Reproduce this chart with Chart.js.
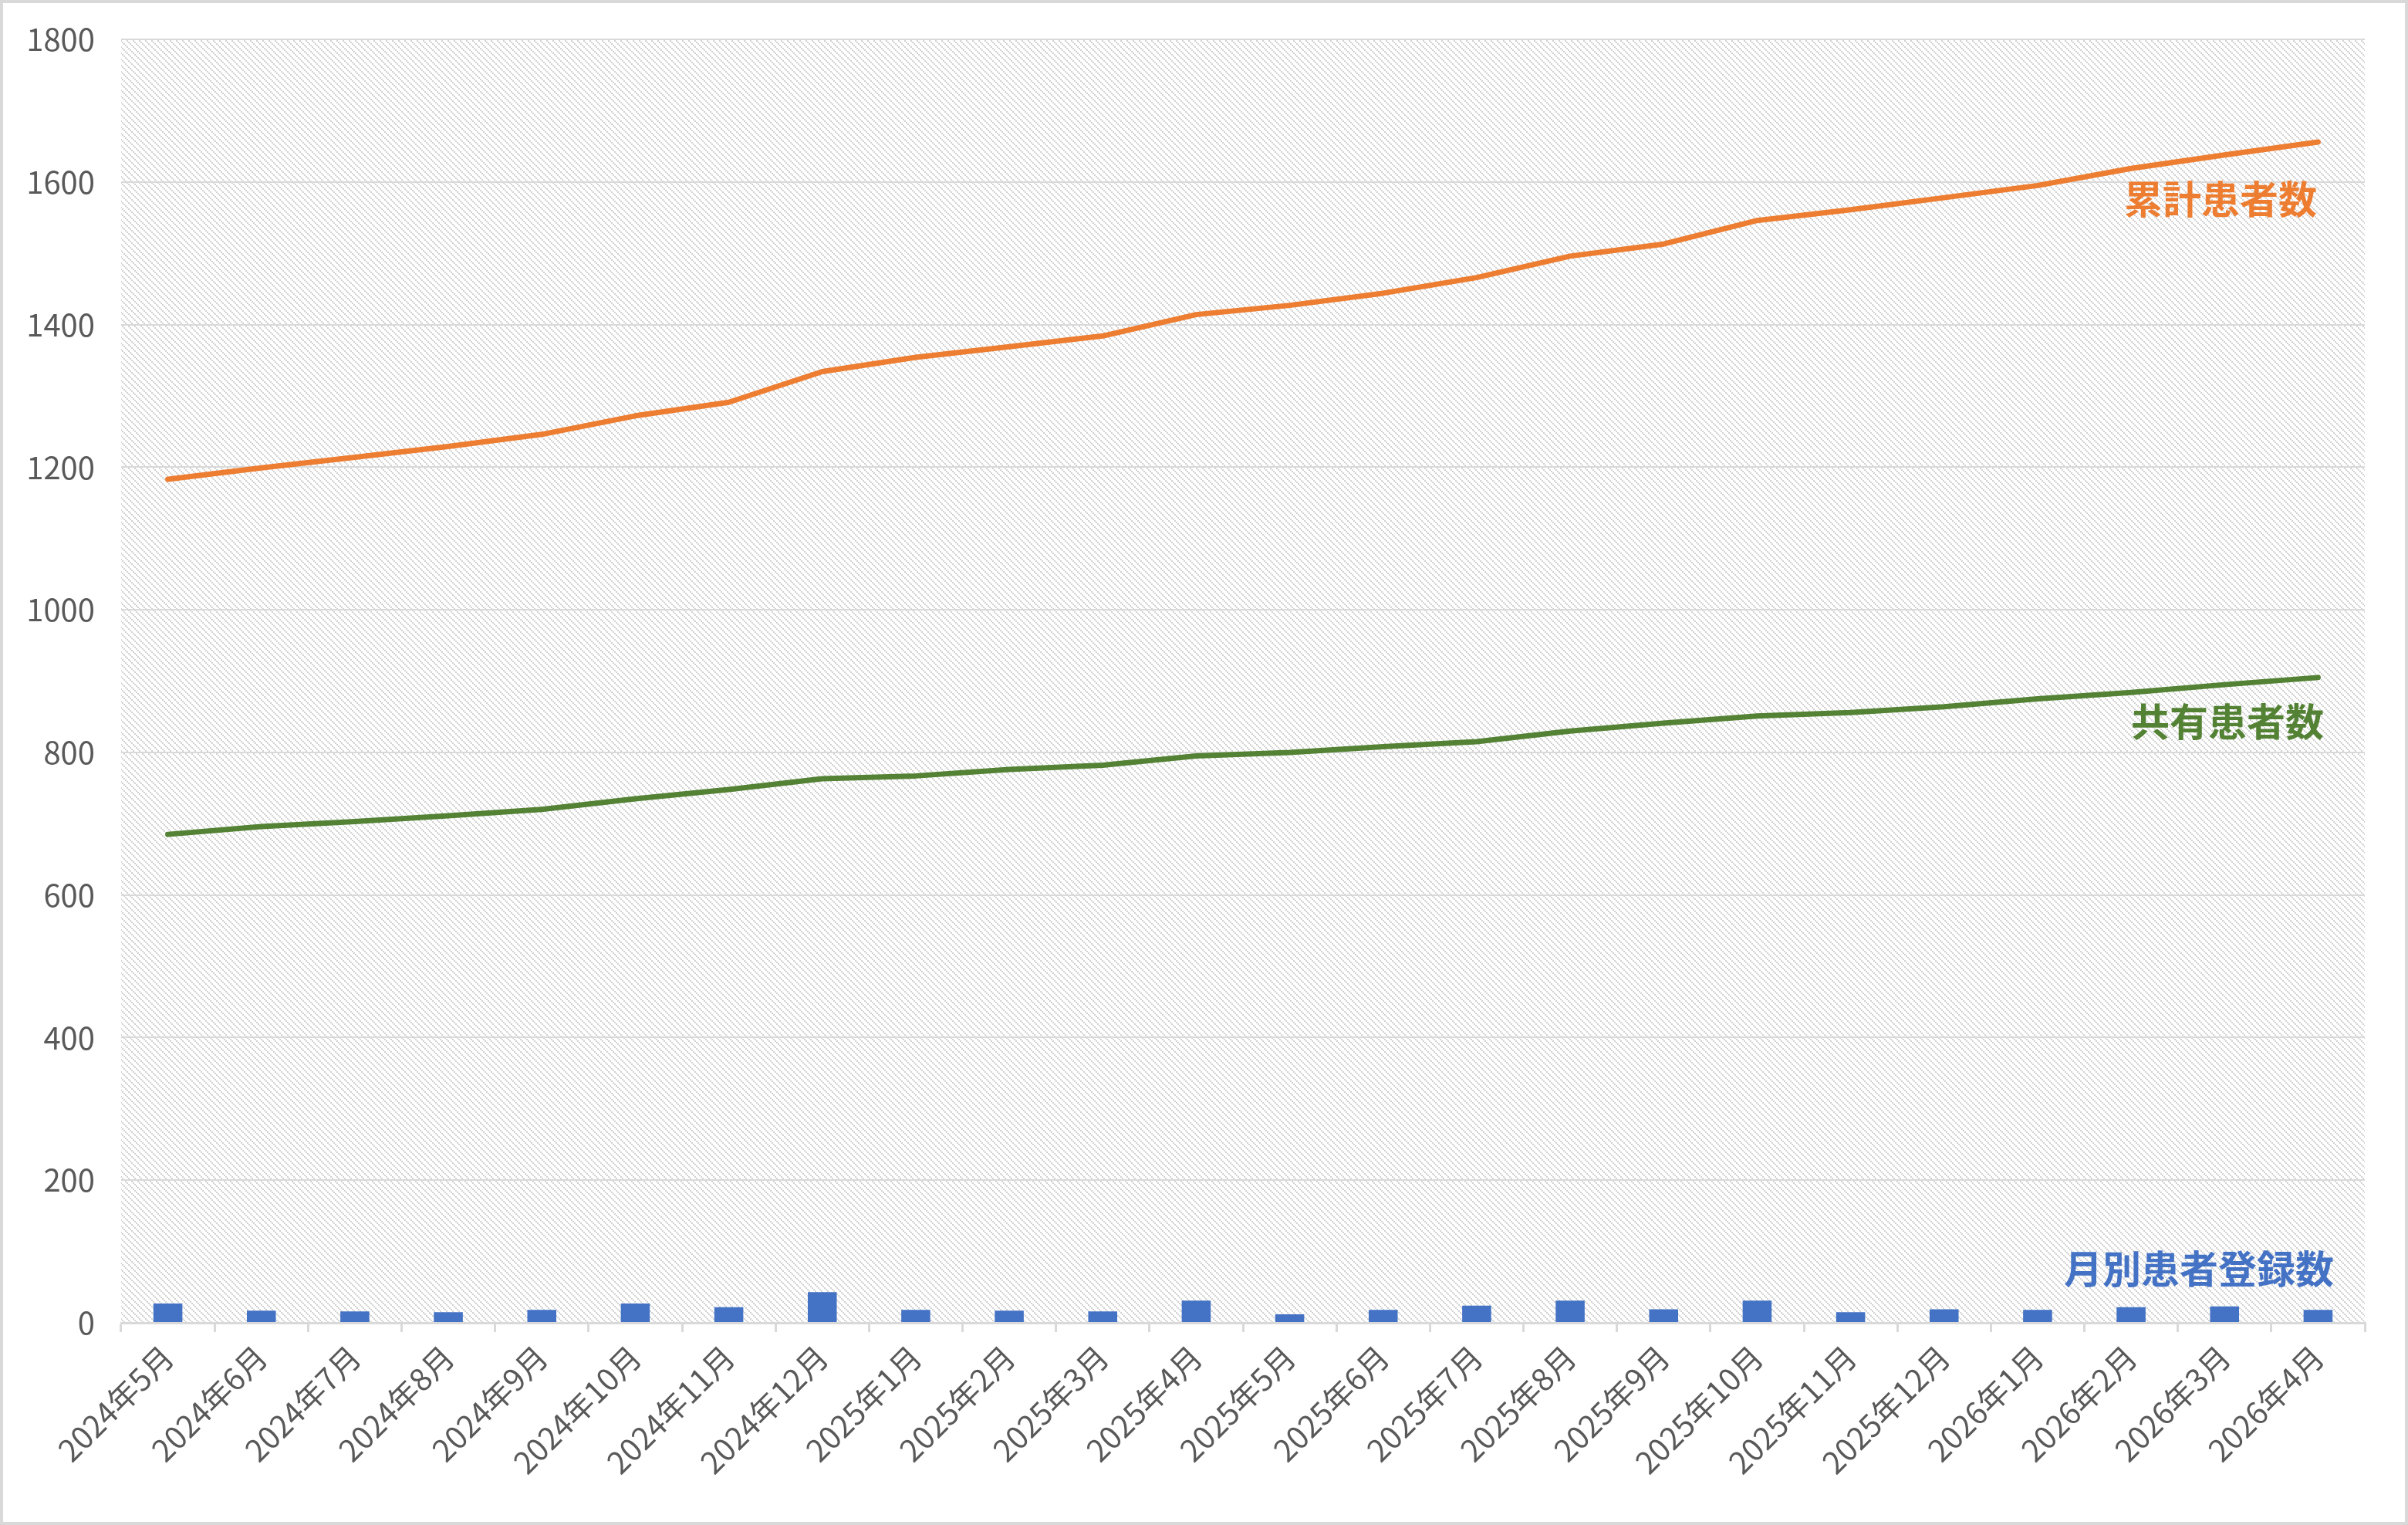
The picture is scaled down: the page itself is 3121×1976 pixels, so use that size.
<!DOCTYPE html>
<html lang="ja">
<head>
<meta charset="UTF-8" />
<title>患者数の推移</title>
<style>
  html,body{margin:0;padding:0;background:#fff;}
  #wrap{width:3121px;height:1976px;position:relative;}
</style>
<script src="https://cdn.jsdelivr.net/npm/chart.js"></script>
</head>
<body>
<div id="wrap"><canvas id="chart" width="3121" height="1976"></canvas></div>

<script>
/* ====== データ ====== */
const months = ['2024年5月','2024年6月','2024年7月','2024年8月','2024年9月','2024年10月','2024年11月','2024年12月',
                '2025年1月','2025年2月','2025年3月','2025年4月','2025年5月','2025年6月','2025年7月','2025年8月',
                '2025年9月','2025年10月','2025年11月','2025年12月','2026年1月','2026年2月','2026年3月','2026年4月'];
const monthlyNew = [27,17,16,15,18,27,22,43, 18,17,16,31,12,18,24,31, 19,31,15,19,18,22,23,18];
const cumulative = [1183,1199,1214,1229,1246,1272,1291,1334, 1354,1369,1384,1414,1427,1444,1466,1496,
                    1513,1546,1561,1578,1595,1619,1638,1656];
const shared     = [685,696,703,711,720,735,748,763, 767,776,782,795,800,808,815,830,
                    841,851,856,864,875,884,895,905];
const yTicks = [0,200,400,600,800,1000,1200,1400,1600,1800];

/* ====== 色・フォント ====== */
const BLUE='#4472C4', ORANGE='#ED7D31', GREEN='#548235', GRID='#d9d9d9', TXT='#595959';
const FONT='"Noto Sans CJK JP","Noto Sans",sans-serif';

// 系列名ラベル（y値で位置指定、右端からのずらし）
const seriesLabels = [
  {text:'累計患者数',     color:ORANGE, value:1576, dx:62},
  {text:'共有患者数',     color:GREEN,  value:843,  dx:53},
  {text:'月別患者登録数', color:BLUE,   value:76,   dx:40}
];

/* ====== 斜線パターン（2px角の点を斜めに並べる） ====== */
function makeHatch(){
  const c=document.createElement('canvas'); c.width=8; c.height=8;
  const g=c.getContext('2d');
  g.fillStyle='#fff'; g.fillRect(0,0,8,8);
  g.fillStyle='#d2d2d2';
  for(let i=0;i<8;i+=2) g.fillRect(i,i,2,2);
  return c;
}

const plotBg={
  id:'plotBg',
  beforeDraw(chart){
    const {ctx,chartArea:a}=chart;
    ctx.save();
    ctx.fillStyle=ctx.createPattern(makeHatch(),'repeat');
    ctx.fillRect(a.left,a.top,a.right-a.left,a.bottom-a.top);
    ctx.restore();
  }
};

const labelsPlugin={
  id:'seriesLabels',
  afterDatasetsDraw(chart){
    const {ctx,chartArea:a,scales:{y}}=chart;
    ctx.save();
    ctx.font='bold 50px '+FONT;
    ctx.textAlign='right'; ctx.textBaseline='middle';
    seriesLabels.forEach(l=>{
      ctx.fillStyle=l.color;
      ctx.fillText(l.text,a.right-l.dx,y.getPixelForValue(l.value));
    });
    ctx.restore();
  },
  afterDraw(chart){
    const {ctx,width,height}=chart;
    ctx.save();
    ctx.strokeStyle=GRID; ctx.lineWidth=4;
    ctx.strokeRect(2,2,width-4,height-4);
    ctx.restore();
  }
};

/* ====== チャート ====== */
new Chart(document.getElementById('chart'),{
  type:'bar',
  data:{
    labels:months,
    datasets:[
      {type:'line',label:'累計患者数',data:cumulative,borderColor:ORANGE,borderWidth:7,
       pointRadius:0,tension:0,borderCapStyle:'round',borderJoinStyle:'round',order:1},
      {type:'line',label:'共有患者数',data:shared,borderColor:GREEN,borderWidth:7,
       pointRadius:0,tension:0,borderCapStyle:'round',borderJoinStyle:'round',order:2},
      {type:'bar',label:'月別患者登録数',data:monthlyNew,backgroundColor:BLUE,
       barPercentage:0.31,categoryPercentage:1,order:3}
    ]
  },
  options:{
    responsive:false,
    animation:false,
    devicePixelRatio:1,
    layout:{padding:{top:51,right:56,left:0,bottom:0}},
    plugins:{legend:{display:false},tooltip:{enabled:false}},
    scales:{
      x:{
        offset:true,
        grid:{display:true,drawOnChartArea:false,drawTicks:true,tickLength:12,color:GRID,lineWidth:3,offset:true},
        border:{display:true,color:GRID,width:3},
        ticks:{color:TXT,font:{family:FONT,size:40},maxRotation:45,minRotation:45,padding:8,autoSkip:false},
        afterFit(s){ s.height=262; }
      },
      y:{
        min:0,max:1800,
        afterBuildTicks(s){ s.ticks=yTicks.map(v=>({value:v})); },
        grid:{color:GRID,lineWidth:2,drawTicks:false},
        border:{display:false},
        ticks:{color:TXT,font:{family:FONT,size:40},padding:34,callback:v=>String(v)},
        afterFit(s){ s.width=157; s.paddingTop=0; s.paddingBottom=0; }
      }
    }
  },
  plugins:[plotBg,labelsPlugin]
});
</script>
</body>
</html>
